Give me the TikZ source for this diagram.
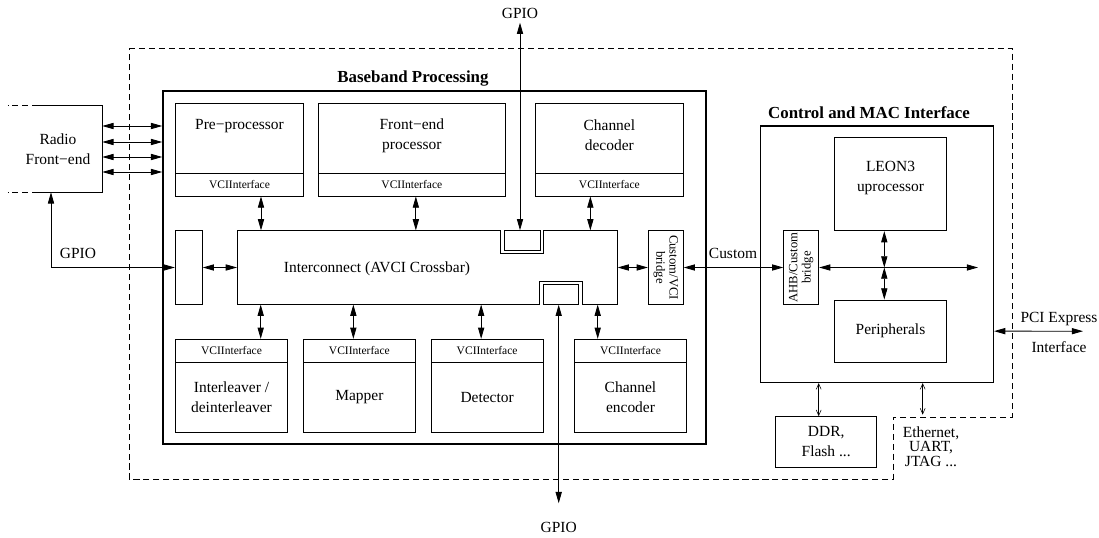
\documentclass[tikz,border=0pt]{standalone}
\usepackage{fontspec}
\setmainfont{Liberation Serif}
\usetikzlibrary{arrows.meta,calc}

\tikzset{
  blk/.style={draw, line width=0.6pt, inner sep=0pt, align=center},
  vcibox/.style={blk, font=\fontsize{8.2}{9}\selectfont, minimum height=0.575cm},
  frame/.style={draw, line width=1pt, inner sep=0pt},
  ttl/.style={font=\bfseries\fontsize{12}{14}\selectfont},
  txt/.style={align=center, inner sep=1pt},
  brg/.style={blk, font=\fontsize{9}{10}\selectfont},
  biarr/.style={line width=0.6pt, {Triangle[length=8pt,width=4.4pt]}-{Triangle[length=8pt,width=4.4pt]}},
  thinarr/.style={line width=0.4pt, {Straight Barb[length=4pt,width=3.5pt]}-{Straight Barb[length=4pt,width=3.5pt]}},
  dsh/.style={line width=0.6pt, dash pattern=on 4.3pt off 2.8pt}
}

\begin{document}
\begin{tikzpicture}[x=0.025cm,y=-0.025cm,font=\fontsize{11}{14.2}\selectfont]
\useasboundingbox (0,0) rectangle (1099,538);

% outer dashed boundary
\draw[dsh] (129,48) -- (1012,48) -- (1012,417) -- (893,417) -- (893,479) -- (129,479) -- cycle;

% radio front-end
\node[txt, minimum width=2.2cm, minimum height=2.15cm] (radio) at (58,149) {Radio\\Front−end};
\draw[line width=0.6pt] (radio.north west) ++(24,0) -- (radio.north east) -- (radio.south east) -- ++(-64,0);
\draw[dsh] (radio.north west) ++(24,0) -- ++(-30,0);
\draw[dsh] (radio.south west) ++(24,0) -- ++(-30,0);

% baseband processing
\node[frame, minimum width=13.575cm, minimum height=8.825cm] (bb) at (434.5,267.5) {};
\node[ttl] (bbttl) at (413,79) {Baseband Processing};

% top blocks
\foreach \n/\x/\w in {pre/239.5/3.19, fe/411.85/4.6575, cd/609.35/3.6825}{
  \node[blk, minimum width=\w cm, minimum height=1.75cm] (\n) at (\x,138) {};
  \node[vcibox, minimum width=\w cm] (\n if) at (\x,184.5) {VCIInterface};
}
\node[txt] (pretxt) at (239.5,126) {Pre−processor};
\node[txt] (fetxt) at (411.85,135.5) {Front−end\\processor};
\node[txt] (cdtxt) at (609.35,135) {Channel\\decoder};

% bottom blocks
\foreach \n/\x/\t in {il/231.5/{Interleaver /\\deinterleaver}, mp/359.35/Mapper, dt/487.15/Detector, ce/630.5/{Channel\\encoder}}{
  \node[vcibox, minimum width=2.8075cm] (\n if) at (\x,350.8) {VCIInterface};
  \node[blk, minimum width=2.8075cm, minimum height=1.75cm] (\n) at (\x,397.3) {\t};
}

% interconnect
\node[minimum width=9.5cm, minimum height=1.84cm, inner sep=0pt] (ic) at (427.3,267.5) {};
\draw[line width=0.6pt] (237.3,230.7) -- (500.7,230.7) -- (500.7,253.7) -- (543.3,253.7) -- (543.3,230.7)
  -- (617.3,230.7) -- (617.3,304.3) -- (582.3,304.3) -- (582.3,281.3) -- (539.3,281.3) -- (539.3,304.3)
  -- (237.3,304.3) -- cycle;
\node[txt] (ictxt) at (377,269) {Interconnect (AVCI Crossbar)};
\node[blk, minimum width=0.8925cm, minimum height=0.4825cm] (gpiot) at (522.15,240.35) {};
\node[blk, minimum width=0.875cm, minimum height=0.49cm] (gpiob) at (560.8,294.5) {};
\node[blk, minimum width=0.675cm, minimum height=1.84cm] (gb) at (188.8,267.5) {};
\node[brg, minimum width=0.875cm, minimum height=1.84cm] (cvb) at (665.8,267.5) {\rotatebox{-90}{\shortstack{Custom/VCI\\bridge}}};

% control and MAC interface
\node[frame, minimum width=5.815cm, minimum height=6.4075cm] (ctrl) at (877,254.15) {};
\node[ttl] (ctrlttl) at (869,112.7) {Control and MAC Interface};
\node[blk, minimum width=2.81cm, minimum height=2.335cm] (leon) at (890.5,184) {};
\node[txt] (leontxt) at (890.5,178.5) {LEON3\\uprocessor};
\node[blk, minimum width=2.81cm, minimum height=1.5575cm] (peri) at (890.5,331.15) {Peripherals};
\node[brg, minimum width=0.875cm, minimum height=1.84cm] (ahb) at (801.2,267.5) {\rotatebox{90}{\shortstack{AHB/Custom\\bridge}}};
\coordinate (busend) at (978,267.5);
\node[blk, minimum width=2.525cm, minimum height=1.265cm] (ddr) at (826.2,442) {DDR,\\Flash ...};
\node[txt, font=\fontsize{11}{10.6}\selectfont] (eth) at (931,446.7) {Ethernet,\\UART,\\JTAG ...};

% labels
\node[txt, inner sep=3pt] (gpioT) at (520,13) {GPIO};
\node[txt, inner sep=3pt] (gpioB) at (558.7,527) {GPIO};
\node[txt] (gpioL) at (78,253) {GPIO};
\node[txt] (custom) at (733,253) {Custom};
\node[txt] (pcitxt) at (1059,319) {PCI Express};
\node[txt] (pciif) at (1059,347) {Interface};
\coordinate (pciend) at (1083,331.2);

% connectors
\foreach \d [count=\i] in {-23,-7,8,23}{
  \coordinate (rf\i) at ($(radio.east)+(0,\d)$);
  \draw[biarr] (rf\i) -- (rf\i -| bb.west);
}
\draw[biarr] (gb.west) -| ([xshift=-0.175cm]radio.south);
\draw[biarr] (gb.east) -- (ic.west);
\foreach \n/\dx in {pre/21.5, fe/4, cd/-19}{
  \coordinate (up) at ([xshift=\dx*0.025cm]\n if.south);
  \draw[biarr] (up) -- (up |- ic.north);
}
\foreach \n/\dx in {il/29.2, mp/-6, dt/-6, ce/-32.8}{
  \coordinate (dn) at ([xshift=\dx*0.025cm]\n if.north);
  \draw[biarr] (dn) -- (dn |- ic.south);
}
\draw[biarr] (gpioT.south) -- (gpioT.south |- gpiot.north);
\draw[biarr, shorten >=10pt] (gpioB |- gpiob.south) -- (gpioB.north);
\draw[biarr] (ic.east) -- (cvb.west);
\draw[biarr] (cvb.east) -- (ahb.west);
\draw[biarr] (ahb.east) -- (busend);
\coordinate (vx) at ([xshift=-0.155cm]leon.south);
\draw[biarr] (vx) -- (vx |- busend);
\draw[biarr] (vx |- busend) -- (vx |- peri.north);
\draw[biarr] (ctrl.east |- peri) -- (pciend);
\coordinate (mx) at ([xshift=-0.1875cm]ddr.north);
\draw[thinarr] (mx |- ctrl.south) -- (mx);
\coordinate (ex) at ([xshift=-0.2075cm,yshift=0.25cm]eth.north);
\draw[thinarr] (ex |- ctrl.south) -- (ex);
\end{tikzpicture}
\end{document}
